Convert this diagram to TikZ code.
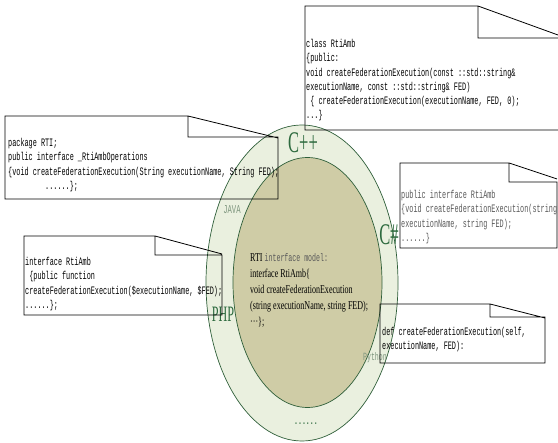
\documentclass[tikz,border=0pt]{standalone}
\usepackage{fontspec}
\newfontfamily\codefont[FakeStretch=0.6]{Liberation Mono}
\newfontfamily\bodyfont[FakeStretch=0.67]{Liberation Serif}
\newfontfamily\labelfont[FakeStretch=0.55]{Liberation Serif}
\definecolor{ringfill}{HTML}{EAF0DF}
\definecolor{corefill}{HTML}{CFCCA6}
\definecolor{ringline}{HTML}{2F5F3A}
\definecolor{langgreen}{HTML}{2D6A3E}
\definecolor{langgray}{HTML}{7E967E}
\tikzset{
  callout/.style={draw=black,line width=0.8pt},
  codetext/.style={font=\codefont\fontsize{11.4}{14.3}\selectfont,align=left,anchor=base west,inner sep=0pt},
  langlabel/.style={font=\labelfont\fontsize{30}{30}\selectfont,text=langgreen,inner sep=0pt},
  smalllang/.style={font=\codefont\fontsize{12}{12}\selectfont,text=langgray,inner sep=0pt}
}
\begin{document}
\begin{tikzpicture}[x=1pt,y=-1pt]
		\useasboundingbox (0,0) rectangle (558,443);
		% two rings: languages outside, common model inside
		\draw[ringline,fill=ringfill,line width=0.7pt] (302,283) ellipse (96 and 158);
		\draw[ringline,fill=corefill,line width=0.7pt] (307.5,282.5) ellipse (74.5 and 125);
		% multi-line nodes: base = baseline of the last line
		\draw (250,326) node[anchor=base west,inner sep=0pt,align=left,font=\bodyfont\fontsize{12}{16}\selectfont] (model)
		{RTI {\codefont\fontsize{11}{16}\selectfont\color{black!65} interface model:}\\
		interface RtiAmb\{\\
		void createFederationExecution\\
		(string executionName, string FED);\\
		···\};};
		\draw (303,143) node[langlabel] (cpp) {C++}  (389,235) node[langlabel] (csharp) {C\#}
		(223,314) node[langlabel,font=\labelfont\fontsize{22}{22}\selectfont] (php) {PHP};
		\draw (232,210) node[smalllang] (java) {JAVA}  (375,358) node[smalllang,font=\codefont\fontsize{11}{11}\selectfont] (python) {Python};
		\draw (306,424) node[inner sep=0pt,text=langgreen,font=\codefont\bfseries\fontsize{11}{11}\selectfont] (more) {......};
		% callouts
		\draw[callout] (478,6)--(305,6)--(305,130)--(558,130)  (478,6)--(558,35)  (478,6)|-(558,38);
		\draw (306,119) node[codetext] (cppcode) {class RtiAmb\\
		\{public:\\
		void createFederationExecution(const ::std::string\&\\
		executionName, const ::std::string\& FED)\\
		\ \{ createFederationExecution(executionName, FED, 0);\\
		...\}};
		\draw[callout] (188,116)--(5,116)--(5,199)--(278,199)--(278,137)--(188,137)--cycle  (188,116)--(278,138);
		\draw (8,189.5) node[codetext] (javacode) {package RTI;\\
		public interface \_RtiAmbOperations\\
		\{void createFederationExecution(String executionName, String FED);\\
		\hspace{37pt}......\};};
		\draw[callout] (509,163)--(400,163)--(400,248)--(557,248)--(557,182)--(509,182)--cycle  (509,163)--(557,179);
		\draw (401,241.5) node[codetext,text=black!65] (cscode) {public interface RtiAmb\\
		\{void createFederationExecution(string\\
		executionName, string FED);\\
		......\}};
		\draw[callout] (155,236)--(24,236)--(24,315)--(222,315)--(222,255)--(155,255)--cycle  (155,236)--(222,254);
		\draw (25,308.5) node[codetext] (phpcode) {interface RtiAmb\\
		\ \{public function\\
		createFederationExecution(\$executionName, \$FED);\\
		......\};};
		\draw[callout] (490,304)--(380,304)--(380,363)--(545,363)--(545,317)--(490,317)--cycle  (490,304)--(545,318);
		\draw (382,349.8) node[codetext] (pycode) {def createFederationExecution(self,\\
		executionName, FED):};
\end{tikzpicture}
\end{document}
